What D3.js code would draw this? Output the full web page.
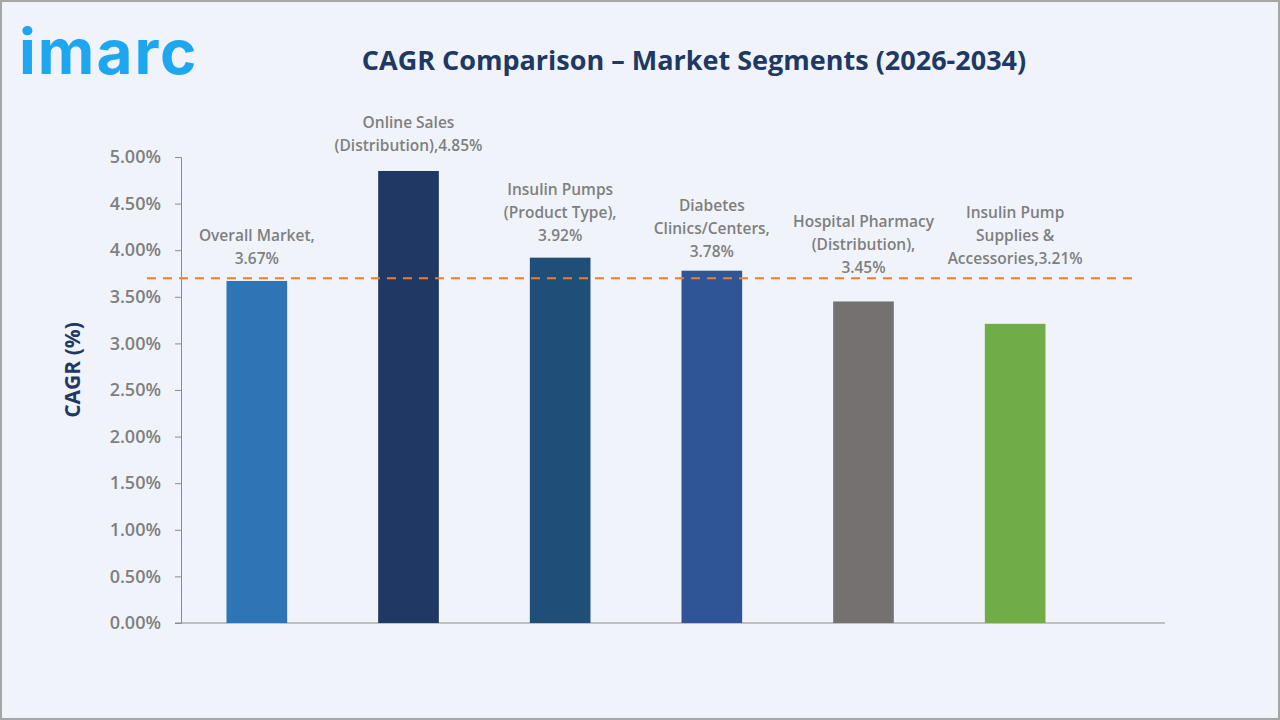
<!DOCTYPE html>
<html>
<head>
<meta charset="utf-8">
<script src="https://cdn.jsdelivr.net/npm/d3@7/dist/d3.min.js"></script>
<style>
  html, body { margin: 0; padding: 0; background: #f0f4fa; }
  svg { display: block; }
</style>
</head>
<body>
<svg id="chart" width="1280" height="720"></svg>
<script>
// chart data
const segments = [
  ["Overall Market,", "3.67%"],
  ["Online Sales", "(Distribution),4.85%"],
  ["Insulin Pumps", "(Product Type),", "3.92%"],
  ["Diabetes", "Clinics/Centers,", "3.78%"],
  ["Hospital Pharmacy", "(Distribution),", "3.45%"],
  ["Insulin Pump", "Supplies &", "Accessories,3.21%"]
];
const cagr = [3.67, 4.85, 3.92, 3.78, 3.45, 3.21];
const barColors = ["#2e75b6", "#1f3864", "#1f4e79", "#2f5597", "#767171", "#70ad47"];
const yTicks = [0, 0.5, 1, 1.5, 2, 2.5, 3, 3.5, 4, 4.5, 5];
const averageLine = 3.70;

const svg = d3.select("#chart");
const font = "'Open Sans', 'Noto Sans', sans-serif";
const grey = "#7f7f7f";

// background and frame
svg.append("rect")
  .attr("x", 1).attr("y", 1).attr("width", 1278).attr("height", 718)
  .style("fill", "#f0f4fa").style("stroke", "#a6a6a6").style("stroke-width", 2);

// logo
svg.append("text")
  .attr("x", 19).attr("y", 74)
  .style("font-family", "'Inter', 'Noto Sans', sans-serif")
  .style("font-size", "62px").style("font-weight", 700)
  .style("letter-spacing", "2px")
  .style("fill", "#1ea7f0")
  .text("imarc");

// title
svg.append("text")
  .attr("x", 694).attr("y", 70)
  .attr("text-anchor", "middle")
  .style("font-family", font).style("font-size", "27px").style("font-weight", 700)
  .style("fill", "#1f3864")
  .text("CAGR Comparison – Market Segments (2026-2034)");

const x = d3.scaleBand()
  .domain(d3.range(segments.length))
  .range([181, 1091])
  .paddingInner(0.6)
  .paddingOuter(0.3);

const y = d3.scaleLinear().domain([0, 5]).range([623, 157]);

// y axis
const yAxis = svg.append("g")
  .attr("transform", "translate(181,0)")
  .call(d3.axisLeft(y).tickValues(yTicks).tickSize(6).tickPadding(14)
    .tickFormat((d) => d3.format(".2f")(d) + "%"));
yAxis.select(".domain").style("stroke", "#8c8c8c");
yAxis.selectAll(".tick line").style("stroke", "#8c8c8c");
yAxis.selectAll("text")
  .style("font-family", font).style("font-size", "18px").style("font-weight", 600)
  .style("fill", grey);

// x axis line
svg.append("line")
  .attr("x1", 175).attr("x2", 1165).attr("y1", y(0)).attr("y2", y(0))
  .style("stroke", "#8c8c8c");

// y axis title
svg.append("text")
  .attr("transform", "translate(80,370) rotate(-90)")
  .attr("text-anchor", "middle")
  .style("font-family", font).style("font-size", "21px").style("font-weight", 700)
  .style("fill", "#1f3864")
  .text("CAGR (%)");

// bars
svg.selectAll(".bar").data(cagr).enter().append("rect")
  .attr("class", "bar")
  .attr("x", (d, i) => x(i))
  .attr("width", x.bandwidth())
  .attr("y", (d) => y(d))
  .attr("height", (d) => y(0) - y(d))
  .style("fill", (d, i) => barColors[i]);

// average dashed line
svg.append("line")
  .attr("x1", 147).attr("x2", 1135)
  .attr("y1", y(averageLine)).attr("y2", y(averageLine))
  .style("stroke", "#ed7d31").style("stroke-width", 2)
  .style("stroke-dasharray", "9,7");

// labels, lifted above the bar top (last line baseline)
const labelLift = [17, 20, 17, 14, 28, 60];
const lineH = 23;
segments.forEach((lines, i) => {
  const base = y(cagr[i]) - labelLift[i];
  const t = svg.append("text")
    .attr("text-anchor", "middle")
    .style("font-family", font).style("font-size", "15.5px").style("font-weight", 600)
    .style("fill", grey);
  lines.forEach((ln, j) => {
    t.append("tspan")
      .attr("x", x(i) + x.bandwidth() / 2)
      .attr("y", base - (lines.length - 1 - j) * lineH)
      .text(ln);
  });
});
</script>
</body>
</html>
